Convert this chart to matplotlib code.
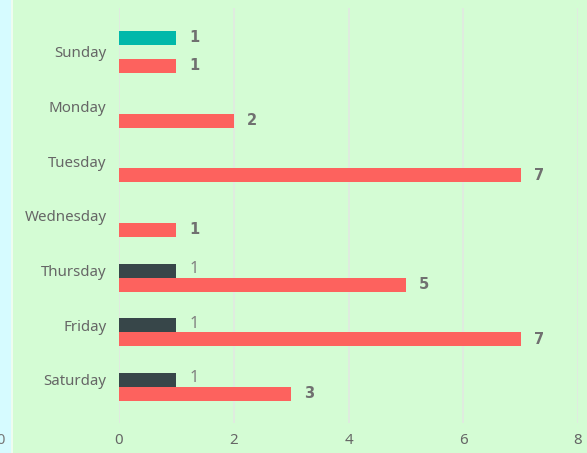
import matplotlib
matplotlib.use("Agg")
import matplotlib.pyplot as plt
import numpy as np

plt.rcParams["font.family"] = ["Noto Sans", "DejaVu Sans"]

days = ["Sunday", "Monday", "Tuesday", "Wednesday", "Thursday", "Friday", "Saturday"]
series_teal = [1, None, None, None, None, None, None]
series_dark = [None, None, None, None, 1, 1, 1]
series_red = [1, 2, 7, 1, 5, 7, 3]
xticks = [0, 2, 4, 6, 8]

W, H = 587, 453
fig = plt.figure(figsize=(W / 100, H / 100), dpi=100)
fig.patch.set_facecolor("#d4fcd4")
# left cyan strip
fig.patches.append(plt.Rectangle((0, 0), 11 / W, 1, transform=fig.transFigure,
                                 facecolor="#d6fbff", edgecolor="none", zorder=0))
fig.patches.append(plt.Rectangle((11 / W, 0), 1.5 / W, 1, transform=fig.transFigure,
                                 facecolor="#eefcf0", edgecolor="none", zorder=0))
fig.text(0 / W, 1 - 440 / H, "0", color="#777777", fontsize=10.5, ha="center", va="center")

left, right = 119 / W, 578 / W
top, bottom = 1 - 8 / H, 1 - 423 / H
ax = fig.add_axes([left, bottom, right - left, top - bottom])
ax.set_facecolor("none")

y = np.arange(len(days))
bw = 14 / 54.67
label_kw = dict(color="#707070", fontsize=10.5, fontweight="bold", va="center", ha="left",
                family=["DejaVu Sans"])

def draw(values, offset, color, bold=True):
    for i, v in enumerate(values):
        if v is None:
            continue
        ax.barh(y[i] + offset, v, height=bw, color=color, zorder=2)
        kw = dict(label_kw)
        if not bold:
            kw["fontweight"] = "normal"
            kw["fontsize"] = 11.5
            kw["color"] = "#808080"
            kw["family"] = ["Noto Sans"]
        ax.text(v + 13 / 57.4, y[i] + offset - (0.03 if not bold else 0), str(v), **kw)

draw(series_teal, -bw, "#01b8aa")
draw(series_dark, 0, "#374649", bold=False)
draw(series_red, bw, "#fd625e")

ax.set_xlim(0, 8)
ax.set_ylim(6.79, -0.805)
ax.set_xticks(xticks)
ax.set_yticks(y)
ax.set_yticklabels(days)
ax.tick_params(axis="both", length=0, colors="#666666", labelsize=10.8)
ax.tick_params(axis="y", pad=9)
ax.tick_params(axis="x", pad=7)
ax.xaxis.grid(True, color="#e2e8e2", linewidth=1.2, zorder=0)
ax.set_axisbelow(True)
for s in ax.spines.values():
    s.set_visible(False)

fig.savefig("out.png", dpi=100, facecolor=fig.get_facecolor())
